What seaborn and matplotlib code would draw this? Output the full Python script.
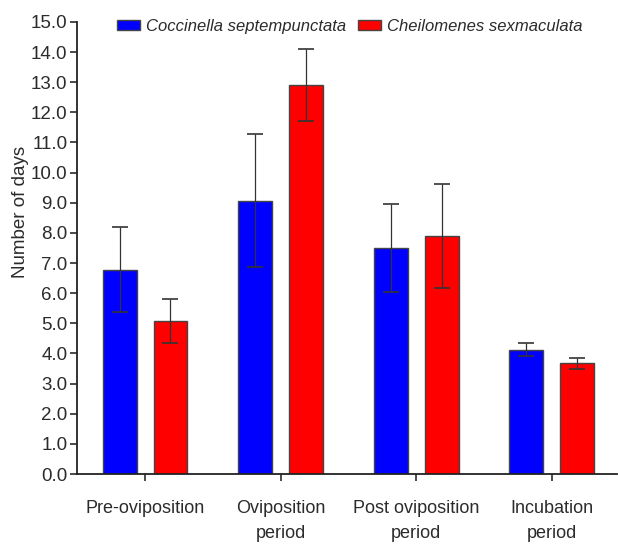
import numpy as np
import pandas as pd
import matplotlib
matplotlib.use("Agg")
import matplotlib.pyplot as plt
import seaborn as sns

# ── data ─────────────────────────────────────────────
stages = ["Pre-oviposition", "Oviposition\nperiod",
          "Post oviposition\nperiod", "Incubation\nperiod"]
species = ["Coccinella septempunctata", "Cheilomenes sexmaculata"]
mean_cs = [6.78, 9.07, 7.50, 4.13]
err_cs = [1.42, 2.20, 1.45, 0.22]
mean_ch = [5.08, 12.90, 7.90, 3.67]
err_ch = [0.73, 1.20, 1.72, 0.17]
yticks = np.arange(0, 15.5, 1.0)

df = pd.DataFrame({
    "stage": stages * 2,
    "species": [species[0]] * 4 + [species[1]] * 4,
    "days": mean_cs + mean_ch,
    "err": err_cs + err_ch,
})

sns.set_style("ticks")
plt.rcParams["font.family"] = ["Liberation Sans", "DejaVu Sans"]
txt = "#2b2b2b"

fig = plt.figure(figsize=(6.18, 5.48), dpi=100)
ax = fig.add_axes([0.125, 0.135, 0.873, 0.825])

sns.barplot(data=df, x="stage", y="days", hue="species", order=stages,
            hue_order=species, palette=["#0000ff", "#ff0000"], saturation=1,
            width=0.75, gap=1/3, errorbar=None, edgecolor="#444444",
            linewidth=1.0, ax=ax)

# error bars from bar centres
for cont, sp in zip(ax.containers, species):
    sub = df[df["species"] == sp].set_index("stage").loc[stages]
    xs = [p.get_x() + p.get_width() / 2 for p in cont.patches]
    ax.errorbar(xs, sub["days"], yerr=sub["err"], fmt="none",
                ecolor="#333333", elinewidth=0.9, capsize=6, capthick=1.2)

ax.set_ylim(0, 15)
ax.set_xlim(-0.5, 3.48)
ax.set_yticks(yticks)
ax.set_yticklabels([f"{v:.1f}" for v in yticks])
ax.tick_params(axis="y", labelsize=13.5, colors=txt, length=5, width=1.2, pad=2)
ax.tick_params(axis="x", labelsize=13, colors=txt, length=5, width=1.2, pad=14)
for lab in ax.get_xticklabels():
    lab.set_linespacing(1.6)
ax.set_xlabel("")
ax.set_ylabel("Number of days", fontsize=13.5, color=txt)
ax.yaxis.set_label_coords(-0.09, 0.58)
sns.despine(ax=ax)
for s in ["left", "bottom"]:
    ax.spines[s].set_linewidth(1.3)
    ax.spines[s].set_color("#222222")

leg = ax.legend(loc="center", bbox_to_anchor=(0.505, 0.99), ncol=2, frameon=False,
                fontsize=12, handlelength=1.4, handleheight=0.6,
                handletextpad=0.35, columnspacing=0.7)
for t in leg.get_texts():
    t.set_style("italic")
    t.set_color(txt)

fig.savefig("out.png", dpi=100)
